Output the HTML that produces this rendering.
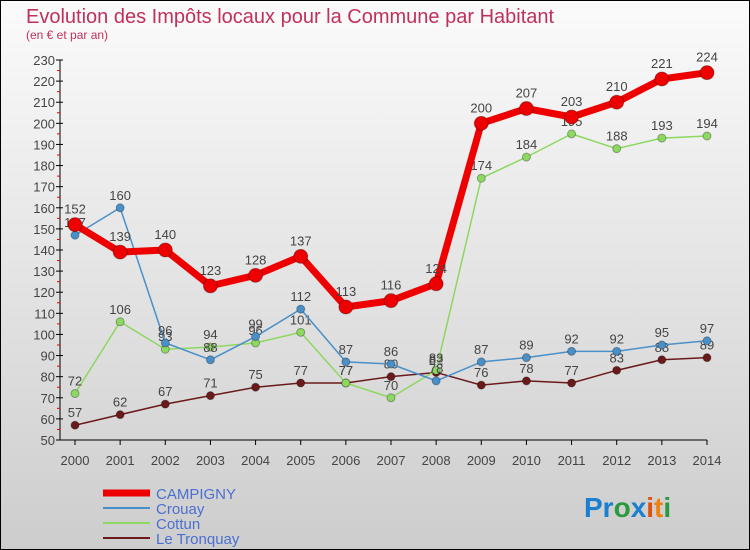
<!DOCTYPE html>
<html><head><meta charset="utf-8"><style>
body{margin:0}
svg{display:block;font-family:"Liberation Sans",sans-serif}
</style></head><body>
<svg width="750" height="550" xmlns="http://www.w3.org/2000/svg">
<defs><linearGradient id="bg" x1="0" y1="0" x2="0" y2="1"><stop offset="0" stop-color="#fbfbfb"/><stop offset="1" stop-color="#cdcdcd"/></linearGradient></defs>
<rect x="0.5" y="0.5" width="749" height="549" fill="url(#bg)" stroke="#000"/>
<text x="26" y="23" font-size="20" fill="#c0305a">Evolution des Impôts locaux pour la Commune par Habitant</text>
<text x="26" y="39" font-size="12" fill="#c0305a">(en € et par an)</text>
<g id="axes"></g><g id="series"></g>
<g>
<line x1="103" y1="493" x2="150" y2="493" stroke="#e00" stroke-width="7"/>
<text x="156" y="499" font-size="15" fill="#4a6fd0">CAMPIGNY</text>
<line x1="103" y1="508" x2="150" y2="508" stroke="#4a90c8" stroke-width="2"/>
<text x="156" y="514" font-size="15" fill="#4a6fd0">Crouay</text>
<line x1="103" y1="523" x2="150" y2="523" stroke="#8cd860" stroke-width="2"/>
<text x="156" y="529" font-size="15" fill="#4a6fd0">Cottun</text>
<line x1="103" y1="538" x2="150" y2="538" stroke="#6a1a1a" stroke-width="2"/>
<text x="156" y="544" font-size="15" fill="#4a6fd0">Le Tronquay</text>
</g>
<text x="584" y="517" font-size="28" font-weight="bold"><tspan fill="#1a7fd0">Pr</tspan><tspan fill="#2a9a40">o</tspan><tspan fill="#1a7fd0">x</tspan><tspan fill="#e05010">i</tspan><tspan fill="#f08010">t</tspan><tspan fill="#2a9a40">i</tspan></text>
</svg>
<script>
const years=[2000,2001,2002,2003,2004,2005,2006,2007,2008,2009,2010,2011,2012,2013,2014];
const yTicks=[50,60,70,80,90,100,110,120,130,140,150,160,170,180,190,200,210,220,230];
const campigny=[152,139,140,123,128,137,113,116,124,200,207,203,210,221,224];
const crouay=[147,160,96,88,99,112,87,86,78,87,89,92,92,95,97];
const cottun=[72,106,93,94,96,101,77,70,83,174,184,195,188,193,194];
const tronquay=[57,62,67,71,75,77,77,80,82,76,78,77,83,88,89];
const NS="http://www.w3.org/2000/svg";
const X=i=>75+i*(707-75)/(years.length-1);
const Y=v=>440-(v-50)*(380/180);
function mk(tag,attrs,parent){const e=document.createElementNS(NS,tag);for(const k in attrs)e.setAttribute(k,attrs[k]);parent.appendChild(e);return e;}
const ax=document.getElementById('axes');
let l=mk('line',{x1:60,y1:Y(230),x2:60,y2:440,stroke:'#000'},ax);


l=mk('line',{x1:60,y1:440,x2:707,y2:440,stroke:'#000'},ax);


yTicks.forEach((t,i)=>{
  mk('line',{x1:56,y1:Y(t),x2:63,y2:Y(t),stroke:'#000'},ax);
  if(i<yTicks.length-1)mk('line',{x1:57,y1:Y(t+5),x2:60,y2:Y(t+5),stroke:'#e00'},ax);
  const tx=mk('text',{x:55,y:Y(t)+5,'font-size':13,'text-anchor':'end',fill:'#444'},ax);
  tx.textContent=t;
  
  
});
years.forEach((y,i)=>{
  mk('line',{x1:X(i),y1:440,x2:X(i),y2:445,stroke:'#000'},ax);
  const tx=mk('text',{x:X(i),y:465,'font-size':13,'text-anchor':'middle',fill:'#444'},ax);
  tx.textContent=y;
  
  
});
const sg=document.getElementById('series');
function draw(data,color,w,r,name){
  const g=mk('g',{},sg);
  
  
  const p=mk('polyline',{points:data.map((v,i)=>X(i)+','+Y(v)).join(' '),fill:'none',stroke:color,'stroke-width':w,'stroke-linejoin':'round'},g);
  
  
  data.forEach((v,i)=>{
    const c=mk('circle',{cx:X(i),cy:Y(v),r:r,fill:color,stroke:'rgba(0,0,0,0.3)'},g);
    
    
    const t=mk('text',{x:X(i),y:Y(v)-r-4,'font-size':13,'text-anchor':'middle',fill:'#444'},g);
    t.textContent=v;
    
    
  });
}
draw(tronquay,'#6a1a1a',1.5,4,'le-tronquay');
draw(cottun,'#8cd860',1.5,4,'cottun');
draw(crouay,'#4a90c8',1.5,4,'crouay');
draw(campigny,'#e00',7,7,'campigny');
</script>
</body></html>
